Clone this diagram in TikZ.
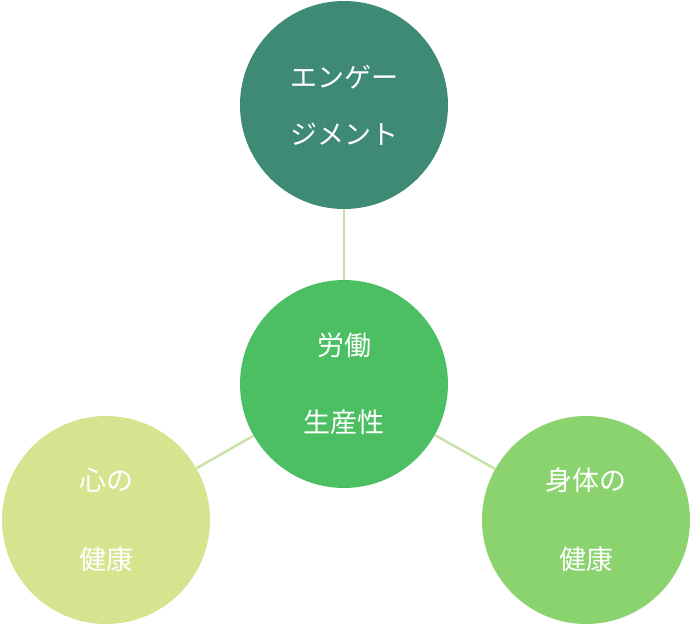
\documentclass[tikz,border=0pt]{standalone}
\usepackage{fontspec}
\newfontfamily\cjk{Noto Sans CJK JP}
\definecolor{ctop}{HTML}{3E8A74}
\definecolor{cmid}{HTML}{4CBF63}
\definecolor{cleft}{HTML}{D7E48F}
\definecolor{cright}{HTML}{8BD36E}
\definecolor{cline}{HTML}{C8E3A6}
\begin{document}
\begin{tikzpicture}[x=1pt,y=-1pt,
  bubble/.style={circle,minimum size=208pt,inner sep=0pt,text=white,align=center,font=\cjk\fontsize{27}{27}\selectfont},
  link/.style={draw=cline,line width=2.5pt}]
\useasboundingbox (0,0) rectangle (690,626);
\node[bubble,fill=ctop] (top) at (344,105) {エンゲー\\[30pt]ジメント};
\node[bubble,fill=cmid] (mid) at (344,384) {労働\\[50pt]生産性};
\node[bubble,fill=cleft] (left) at (106,520) {心の\\[52pt]健康};
\node[bubble,fill=cright] (right) at (586,520) {身体の\\[52pt]健康};
\draw[link] (top) -- (mid);
\draw[link] (mid) -- (left);
\draw[link] (mid) -- (right);
\end{tikzpicture}
\end{document}
